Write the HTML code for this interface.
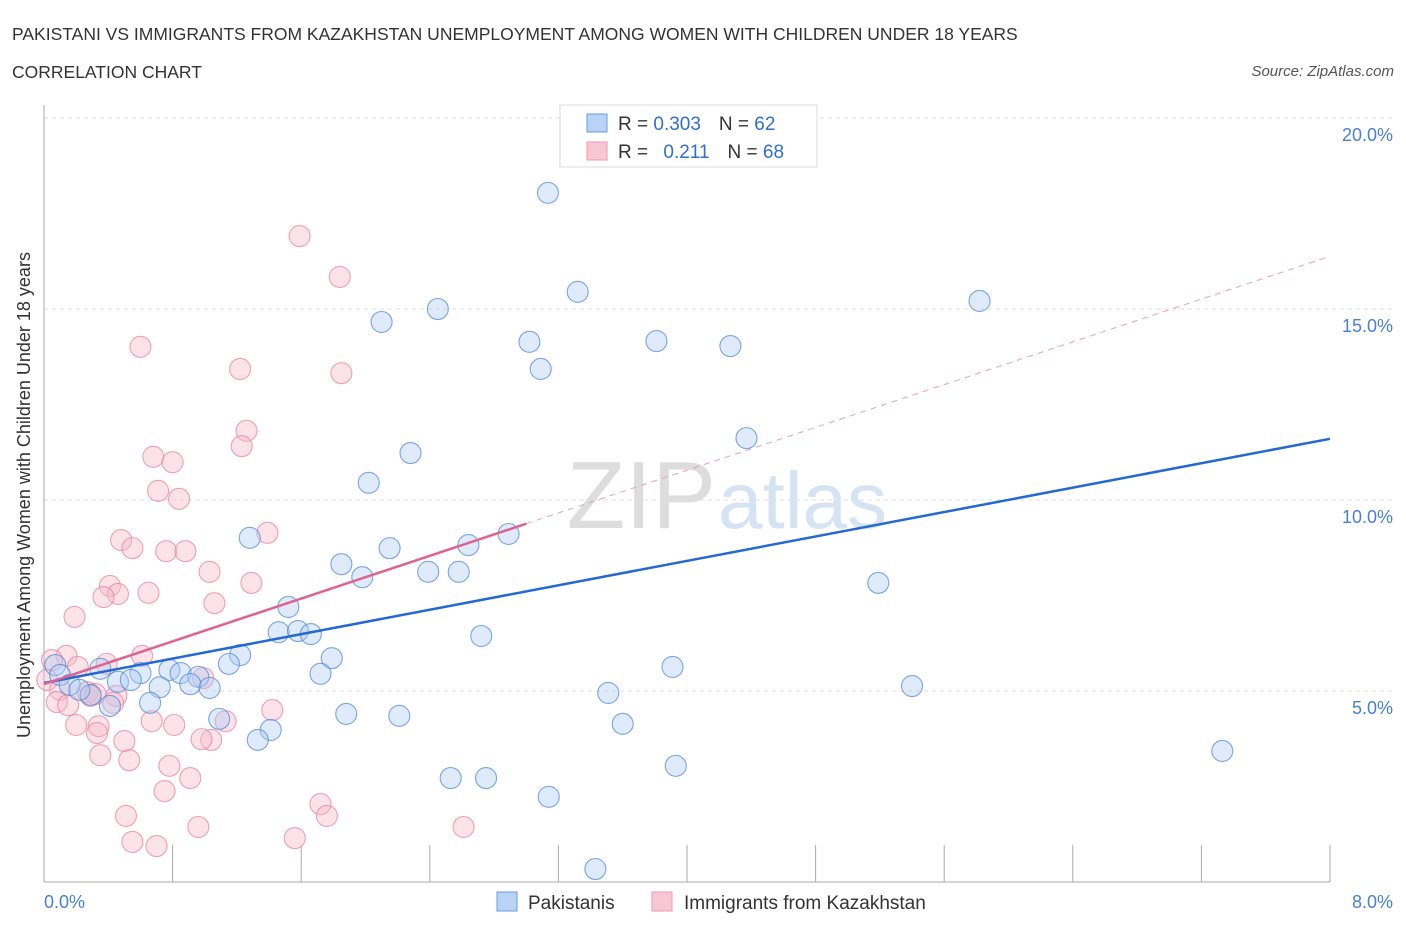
<!DOCTYPE html>
<html><head><meta charset="utf-8"><style>
body{margin:0;background:#fff;font-family:"Liberation Sans",sans-serif;}
svg text{font-family:"Liberation Sans",sans-serif;}
</style></head><body>
<svg width="1406" height="930" viewBox="0 0 1406 930">
<text x="12" y="40" font-size="17.5" fill="#333">PAKISTANI VS IMMIGRANTS FROM KAZAKHSTAN UNEMPLOYMENT AMONG WOMEN WITH CHILDREN UNDER 18 YEARS</text>
<text x="12" y="78" font-size="17.5" fill="#333">CORRELATION CHART</text>
<text x="1394" y="76" font-size="15" fill="#555" font-style="italic" text-anchor="end">Source: ZipAtlas.com</text>
<g id="grid"></g>
<text x="716" y="528" font-size="96" fill="#ddd" text-anchor="end" font-family="Liberation Serif">ZIP</text>
<text x="718" y="528" font-size="80" fill="#d6e3f3">atlas</text>
<g id="axes"></g>
<g id="pts"></g>
<g id="trends"></g>
<text x="30" y="495" font-size="18" fill="#333" text-anchor="middle" transform="rotate(-90 30 495)">Unemployment Among Women with Children Under 18 years</text>
<text x="44" y="908" font-size="18" fill="#4a7fd4">0.0%</text>
<text x="1393" y="908" font-size="18" fill="#4a7fd4" text-anchor="end">8.0%</text>
<g>
<rect x="560" y="105" width="257" height="62" fill="#fff" stroke="#ddd"/>
<rect x="587" y="114" width="20" height="18" fill="#b8d3f5" stroke="#6b9be0"/>
<rect x="587" y="142" width="20" height="18" fill="#f9c6d5" stroke="#ec9ab2"/>
<text x="618" y="130" font-size="19" fill="#333">R = <tspan fill="#2f6fd0">0.303</tspan><tspan dx="18">N = </tspan><tspan fill="#2f6fd0">62</tspan></text>
<text x="618" y="158" font-size="19" fill="#333">R = <tspan dx="10" fill="#2f6fd0">0.211</tspan><tspan dx="18">N = </tspan><tspan fill="#2f6fd0">68</tspan></text>
</g>
<g>
<rect x="497" y="892" width="20" height="19" fill="#b8d3f5" stroke="#6b9be0"/>
<text x="528" y="909" font-size="19" fill="#333">Pakistanis</text>
<rect x="652" y="892" width="20" height="19" fill="#f9c6d5" stroke="#ec9ab2"/>
<text x="684" y="909" font-size="19" fill="#333">Immigrants from Kazakhstan</text>
</g>
</svg>
<script>
const yTicks=[5,10,15,20];
const yTickLabels=["5.0%","10.0%","15.0%","20.0%"];
const xTicks=[0,0.8,1.6,2.4,3.2,4.0,4.8,5.6,6.4,7.2,8.0];
const blueX=[3.135,3.32,2.45,2.10,5.82,3.02,3.81,4.27,3.09,4.37,2.28,2.02,1.28,2.15,2.89,2.64,1.85,1.98,2.39,2.58,5.19,1.52,1.46,1.58,1.66,2.72,1.79,1.22,1.15,1.72,3.91,0.35,0.60,0.78,0.85,0.96,0.46,0.54,0.72,0.91,1.03,5.40,3.51,0.66,0.41,0.29,1.09,1.88,2.21,3.60,1.41,1.33,7.33,3.93,2.53,2.75,3.14,3.43,0.07,0.10,0.16,0.22];
const blueY=[18.04,15.45,15.0,14.66,15.21,14.14,14.16,14.03,13.43,11.62,11.23,10.45,9.01,8.74,9.11,8.82,8.32,7.98,8.12,8.12,7.83,7.20,6.54,6.57,6.49,6.44,5.86,5.94,5.71,5.45,5.63,5.58,5.47,5.55,5.47,5.37,5.24,5.29,5.10,5.18,5.08,5.13,4.95,4.69,4.61,4.90,4.27,4.40,4.35,4.14,3.98,3.72,3.43,3.04,2.72,2.72,2.23,0.34,5.68,5.42,5.16,5.03];
const pinkX=[1.59,1.84,0.60,1.22,1.85,1.26,1.23,0.68,0.80,0.71,0.84,1.39,0.48,0.55,0.76,0.88,1.03,1.29,0.41,0.46,0.37,0.65,1.06,0.19,0.61,0.39,0.14,0.05,0.21,0.02,0.10,0.27,0.32,0.29,0.45,0.99,0.08,0.15,0.43,1.42,0.20,0.34,0.67,0.81,1.13,0.33,0.50,1.04,0.98,0.35,0.53,0.78,0.91,0.75,1.72,1.76,0.51,0.96,2.61,1.56,0.55,0.70];
const pinkY=[16.91,15.84,14.01,13.43,13.32,11.81,11.41,11.13,10.99,10.24,10.03,9.14,8.95,8.74,8.66,8.66,8.12,7.83,7.75,7.54,7.46,7.57,7.30,6.94,5.92,5.71,5.92,5.81,5.63,5.29,5.03,4.97,4.92,4.87,4.87,5.34,4.71,4.63,4.69,4.50,4.11,4.08,4.21,4.11,4.21,3.90,3.69,3.72,3.74,3.32,3.19,3.04,2.72,2.38,2.04,1.73,1.73,1.44,1.44,1.15,1.05,0.94];
const blueTrend=[5.21,0.799];
const pinkTrend=[5.18,1.40];
const pinkSolidEnd=3.0;
const NS="http://www.w3.org/2000/svg";
const sx=v=>44+v/8*1286, sy=v=>882-v*38.2;
function mk(tag,attrs,parent){const e=document.createElementNS(NS,tag);for(const k in attrs)e.setAttribute(k,attrs[k]);parent.appendChild(e);return e;}
const grid=document.getElementById('grid'),axes=document.getElementById('axes'),pts=document.getElementById('pts'),tr=document.getElementById('trends');
yTicks.forEach((t,i)=>{
 const l=mk('line',{x1:44,x2:1392,y1:sy(t),y2:sy(t),stroke:'#ddd','stroke-dasharray':'4,4'},grid);
 
 
 const tx=mk('text',{x:1393,y:sy(t)+23,'font-size':18,fill:'#4a7fd4','text-anchor':'end'},grid);
 tx.textContent=yTickLabels[i];
 
 
});
mk('line',{x1:44,x2:44,y1:105,y2:882,stroke:'#aaa'},axes);
mk('line',{x1:44,x2:1330,y1:882,y2:882,stroke:'#aaa'},axes);
xTicks.forEach(t=>{
 const l=mk('line',{x1:sx(t),x2:sx(t),y1:845,y2:882,stroke:'#aaa'},axes);
 
 
});
function dots(X,Y,fill,stroke,name){X.forEach((x,i)=>{
 const c=mk('circle',{cx:sx(x),cy:sy(Y[i]),r:10.5,fill:fill,'fill-opacity':0.4,stroke:stroke,'stroke-width':1.1,'stroke-opacity':0.75},pts);
 
 
});}
dots(pinkX,pinkY,'#f7b9cb','#e8829f','kazakhstan-point');
dots(blueX,blueY,'#aecbf2','#4f8ad8','pakistani-point');
const f=(tr0,x)=>tr0[0]+tr0[1]*x;
let l1=mk('line',{x1:sx(pinkSolidEnd),y1:sy(f(pinkTrend,pinkSolidEnd)),x2:sx(8),y2:sy(f(pinkTrend,8)),stroke:'#e8a0b5','stroke-width':1,'stroke-dasharray':'6,5'},tr);


let l2=mk('line',{x1:sx(0),y1:sy(f(blueTrend,0)),x2:sx(8),y2:sy(f(blueTrend,8)),stroke:'#2369d4','stroke-width':2.5},tr);


let l3=mk('line',{x1:sx(0),y1:sy(f(pinkTrend,0)),x2:sx(pinkSolidEnd),y2:sy(f(pinkTrend,pinkSolidEnd)),stroke:'#e0628e','stroke-width':2.5},tr);


</script>
</body></html>
